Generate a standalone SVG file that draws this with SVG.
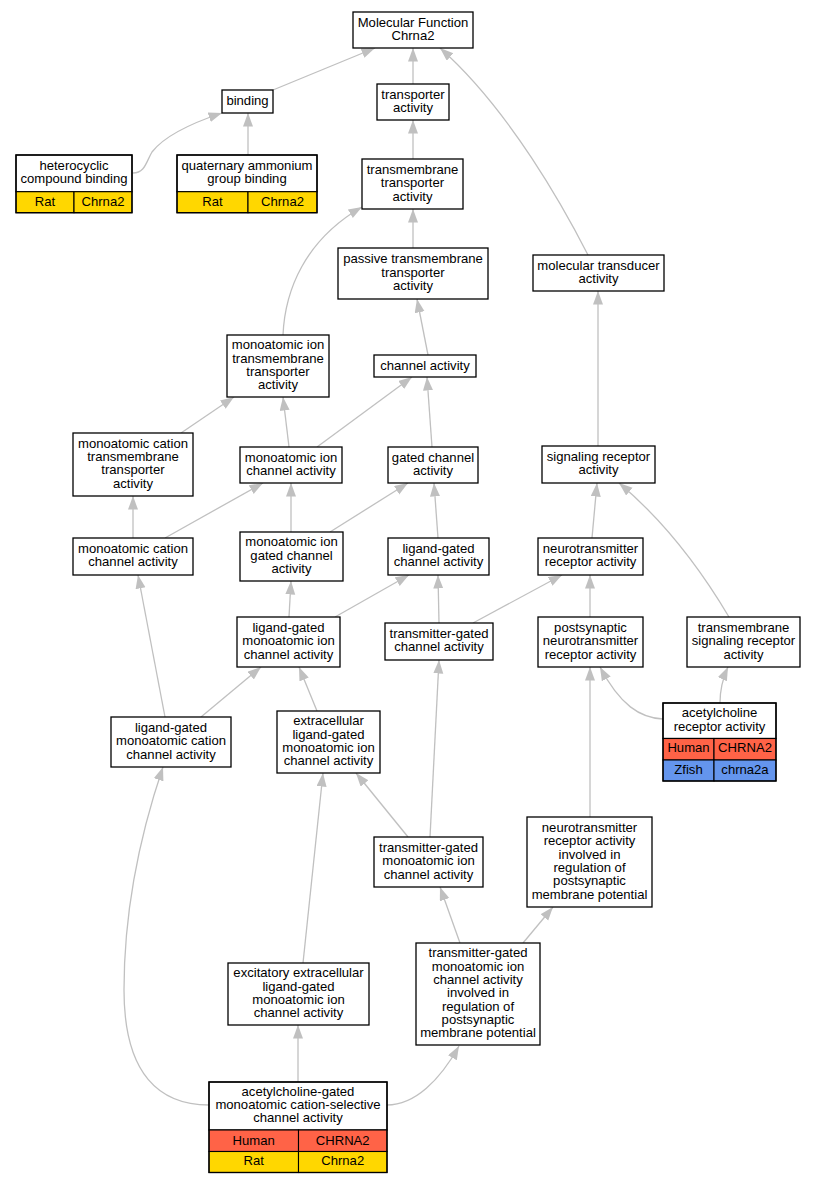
<svg xmlns="http://www.w3.org/2000/svg" width="816" height="1184" viewBox="0 0 816 1184">
<defs>
<style>
.b{fill:#fff;stroke:#000;stroke-width:1.3}
.c{stroke:#000;stroke-width:1.1}
.hu{fill:#FF6347}
.ra{fill:#FFD700}
.zf{fill:#6495ED}
text{font-family:"Liberation Sans",Arial,sans-serif;font-size:13.1px;text-anchor:middle;fill:#000}
.e{fill:none;stroke:#c0c0c0;stroke-width:1.3;marker-end:url(#arr)}
</style>
<marker id="arr" markerUnits="userSpaceOnUse" markerWidth="15" markerHeight="11" refX="13.5" refY="5" orient="auto">
<path d="M0,0 L13.5,5 L0,10 z" fill="#c0c0c0"/>
</marker>
</defs>
<rect width="816" height="1184" fill="#fff"/>
<g id="edges">
<path class="e" d="M273,90 L375,48"/>
<path class="e" d="M413,84 L413,48"/>
<path class="e" d="M588,255 C565,210 510,110 440,48"/>
<path class="e" d="M133,173 C145,173 146,162 152,152 C165,135 195,122 222,113"/>
<path class="e" d="M248,155 L248,113"/>
<path class="e" d="M413,159 L413,120"/>
<path class="e" d="M413,248 L413,209"/>
<path class="e" d="M283,335 C285,290 305,240 362,207"/>
<path class="e" d="M428,355 L417,299"/>
<path class="e" d="M181,433 L234,397"/>
<path class="e" d="M289,447 L283,397"/>
<path class="e" d="M317,447 L412,377"/>
<path class="e" d="M432,447 L427,377"/>
<path class="e" d="M133,538 L133,496"/>
<path class="e" d="M165,538 L263,483"/>
<path class="e" d="M291,532 L291,483"/>
<path class="e" d="M330,532 L408,483"/>
<path class="e" d="M438,538 L434,483"/>
<path class="e" d="M598,446 L598,291"/>
<path class="e" d="M289,617 L291,581"/>
<path class="e" d="M335,617 L409,575"/>
<path class="e" d="M439,623 L438,575"/>
<path class="e" d="M473,623 L562,575"/>
<path class="e" d="M592,538 L597,483"/>
<path class="e" d="M729,617 C710,585 675,530 619,483"/>
<path class="e" d="M590,617 L590,575"/>
<path class="e" d="M663,719 C640,718 620,705 600,667"/>
<path class="e" d="M720,703 C720,690 722,680 728,667"/>
<path class="e" d="M165,717 L138,575"/>
<path class="e" d="M201,717 L261,667"/>
<path class="e" d="M317,711 L299,667"/>
<path class="e" d="M408,837 L356,773"/>
<path class="e" d="M430,837 L439,660"/>
<path class="e" d="M590,817 L590,667"/>
<path class="e" d="M303,963 L323,773"/>
<path class="e" d="M460,943 L440,887"/>
<path class="e" d="M523,943 L553,907"/>
<path class="e" d="M298,1082 L298,1025"/>
<path class="e" d="M387,1105 C415,1105 440,1080 459,1046"/>
<path class="e" d="M209,1105 C160,1105 124,1075 124,990 C124,900 145,820 163,767"/>
</g>
<g id="n1"><rect class="b" x="353" y="12" width="120" height="36"/><text x="413" y="26.5">Molecular Function</text><text x="413" y="39.9">Chrna2</text></g>
<g id="n2"><rect class="b" x="222" y="90" width="51" height="23"/><text x="247.5" y="105">binding</text></g>
<g id="n3"><rect class="b" x="377" y="84" width="72" height="36"/><text x="413" y="98.5">transporter</text><text x="413" y="111.9">activity</text></g>
<g id="n4"><rect class="b" x="16" y="155" width="116" height="36.7"/><text x="74" y="169.9">heterocyclic</text><text x="74" y="183.2">compound binding</text>
<rect class="ra c" x="16" y="191.7" width="58" height="21"/><rect class="ra c" x="74" y="191.7" width="58" height="21"/><text x="45" y="205.5">Rat</text><text x="103" y="205.5">Chrna2</text><rect x="16" y="155" width="116" height="57.7" fill="none" stroke="#000" stroke-width="1.3"/></g>
<g id="n5"><rect class="b" x="177" y="155" width="140" height="36.7"/><text x="247" y="169.9">quaternary ammonium</text><text x="247" y="183.2">group binding</text>
<rect class="ra c" x="177" y="191.7" width="71" height="21"/><rect class="ra c" x="248" y="191.7" width="69" height="21"/><text x="212.5" y="205.5">Rat</text><text x="282.5" y="205.5">Chrna2</text><rect x="177" y="155" width="140" height="57.7" fill="none" stroke="#000" stroke-width="1.3"/></g>
<g id="n6"><rect class="b" x="362" y="159" width="101" height="50"/><text x="412.5" y="173.9">transmembrane</text><text x="412.5" y="187.2">transporter</text><text x="412.5" y="200.5">activity</text></g>
<g id="n7"><rect class="b" x="338" y="248" width="150" height="51"/><text x="413" y="263.4">passive transmembrane</text><text x="413" y="276.7">transporter</text><text x="413" y="290">activity</text></g>
<g id="n8"><rect class="b" x="533" y="255" width="131" height="36"/><text x="598.5" y="269.5">molecular transducer</text><text x="598.5" y="282.9">activity</text></g>
<g id="n9"><rect class="b" x="227" y="335" width="102" height="62"/><text x="278" y="349.2">monoatomic ion</text><text x="278" y="362.5">transmembrane</text><text x="278" y="375.9">transporter</text><text x="278" y="389.2">activity</text></g>
<g id="n10"><rect class="b" x="374" y="355" width="102" height="22"/><text x="425" y="370">channel activity</text></g>
<g id="n11"><rect class="b" x="73" y="433" width="120" height="63"/><text x="133" y="447.7">monoatomic cation</text><text x="133" y="461">transmembrane</text><text x="133" y="474.4">transporter</text><text x="133" y="487.7">activity</text></g>
<g id="n12"><rect class="b" x="240" y="447" width="102" height="36"/><text x="291" y="461.5">monoatomic ion</text><text x="291" y="474.8">channel activity</text></g>
<g id="n13"><rect class="b" x="388" y="447" width="90" height="36"/><text x="433" y="461.5">gated channel</text><text x="433" y="474.8">activity</text></g>
<g id="n14"><rect class="b" x="542" y="446" width="113" height="37"/><text x="598.5" y="461">signaling receptor</text><text x="598.5" y="474.3">activity</text></g>
<g id="n15"><rect class="b" x="73" y="538" width="120" height="37"/><text x="133" y="553">monoatomic cation</text><text x="133" y="566.3">channel activity</text></g>
<g id="n16"><rect class="b" x="240" y="532" width="103" height="49"/><text x="291.5" y="546.4">monoatomic ion</text><text x="291.5" y="559.7">gated channel</text><text x="291.5" y="573">activity</text></g>
<g id="n17"><rect class="b" x="388" y="538" width="101" height="37"/><text x="438.5" y="553">ligand-gated</text><text x="438.5" y="566.3">channel activity</text></g>
<g id="n18"><rect class="b" x="538" y="538" width="105" height="37"/><text x="590.5" y="553">neurotransmitter</text><text x="590.5" y="566.3">receptor activity</text></g>
<g id="n19"><rect class="b" x="237" y="617" width="103" height="50"/><text x="288.5" y="631.9">ligand-gated</text><text x="288.5" y="645.2">monoatomic ion</text><text x="288.5" y="658.5">channel activity</text></g>
<g id="n20"><rect class="b" x="385" y="623" width="108" height="37"/><text x="439" y="638">transmitter-gated</text><text x="439" y="651.3">channel activity</text></g>
<g id="n21"><rect class="b" x="538" y="617" width="105" height="50"/><text x="590.5" y="631.9">postsynaptic</text><text x="590.5" y="645.2">neurotransmitter</text><text x="590.5" y="658.5">receptor activity</text></g>
<g id="n22"><rect class="b" x="687" y="617" width="113" height="50"/><text x="743.5" y="631.9">transmembrane</text><text x="743.5" y="645.2">signaling receptor</text><text x="743.5" y="658.5">activity</text></g>
<g id="n23"><rect class="b" x="663" y="703" width="113" height="35.5"/><text x="719.5" y="717.3">acetylcholine</text><text x="719.5" y="730.6">receptor activity</text>
<rect class="hu c" x="663" y="738.5" width="51" height="21.5"/><rect class="hu c" x="714" y="738.5" width="62" height="21.5"/><text x="688.5" y="752.3">Human</text><text x="745" y="752.3">CHRNA2</text>
<rect class="zf c" x="663" y="760" width="51" height="21"/><rect class="zf c" x="714" y="760" width="62" height="21"/><text x="688.5" y="774">Zfish</text><text x="745" y="774">chrna2a</text><rect x="663" y="703" width="113" height="78" fill="none" stroke="#000" stroke-width="1.3"/></g>
<g id="n24"><rect class="b" x="111" y="717" width="120" height="50"/><text x="171" y="731.9">ligand-gated</text><text x="171" y="745.2">monoatomic cation</text><text x="171" y="758.5">channel activity</text></g>
<g id="n25"><rect class="b" x="277" y="711" width="103" height="62"/><text x="328.5" y="725.2">extracellular</text><text x="328.5" y="738.5">ligand-gated</text><text x="328.5" y="751.9">monoatomic ion</text><text x="328.5" y="765.2">channel activity</text></g>
<g id="n26"><rect class="b" x="374" y="837" width="109" height="50"/><text x="428.5" y="851.9">transmitter-gated</text><text x="428.5" y="865.2">monoatomic ion</text><text x="428.5" y="878.5">channel activity</text></g>
<g id="n27"><rect class="b" x="527" y="817" width="125" height="90"/><text x="589.5" y="831.9">neurotransmitter</text><text x="589.5" y="845.2">receptor activity</text><text x="589.5" y="858.5">involved in</text><text x="589.5" y="871.9">regulation of</text><text x="589.5" y="885.2">postsynaptic</text><text x="589.5" y="898.5">membrane potential</text></g>
<g id="n28"><rect class="b" x="228" y="963" width="141" height="62"/><text x="298.5" y="977.2">excitatory extracellular</text><text x="298.5" y="990.5">ligand-gated</text><text x="298.5" y="1003.9">monoatomic ion</text><text x="298.5" y="1017.2">channel activity</text></g>
<g id="n29"><rect class="b" x="416" y="943" width="124" height="102"/><text x="478" y="957.2">transmitter-gated</text><text x="478" y="970.5">monoatomic ion</text><text x="478" y="983.9">channel activity</text><text x="478" y="997.2">involved in</text><text x="478" y="1010.5">regulation of</text><text x="478" y="1023.9">postsynaptic</text><text x="478" y="1037.2">membrane potential</text></g>
<g id="n30"><rect class="b" x="209" y="1082" width="178" height="48"/><text x="298" y="1095.8">acetylcholine-gated</text><text x="298" y="1109.1">monoatomic cation-selective</text><text x="298" y="1122.4">channel activity</text>
<rect class="hu c" x="209" y="1130" width="89.5" height="21.5"/><rect class="hu c" x="298.5" y="1130" width="88.5" height="21.5"/><text x="253.7" y="1144.6">Human</text><text x="342.7" y="1144.6">CHRNA2</text>
<rect class="ra c" x="209" y="1151.5" width="89.5" height="21"/><rect class="ra c" x="298.5" y="1151.5" width="88.5" height="21"/><text x="253.7" y="1165.4">Rat</text><text x="342.7" y="1165.4">Chrna2</text><rect x="209" y="1082" width="178" height="90.5" fill="none" stroke="#000" stroke-width="1.3"/></g>
</svg>
